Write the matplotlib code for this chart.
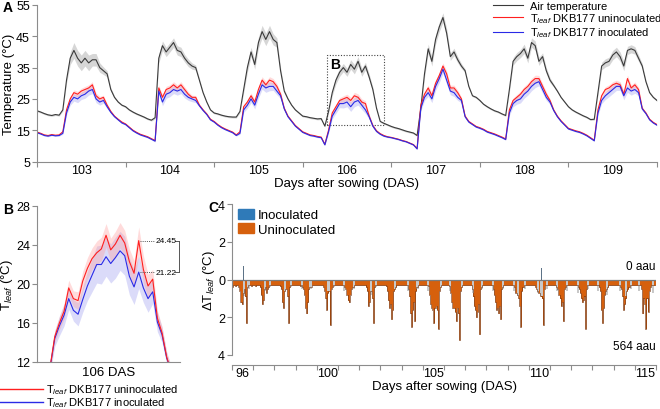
import numpy as np
import matplotlib
matplotlib.use('Agg')
import matplotlib.pyplot as plt
from matplotlib.patches import Rectangle, Patch
from matplotlib.lines import Line2D

plt.rcParams['font.family'] = ['Liberation Sans', 'DejaVu Sans']
plt.rcParams['mathtext.fontset'] = 'custom'
plt.rcParams['mathtext.rm'] = 'Liberation Sans'
plt.rcParams['mathtext.it'] = 'Liberation Sans:italic'

# ---------------- panel A : hourly means, DAS 103 - 109 ----------------
a_days = [103, 104, 105, 106, 107, 108, 109]
air = [
    [21.2, 20.8, 20.3, 19.9, 19.7, 20.0, 19.8, 21.5, 31.0, 38.0, 40.5, 38.0, 36.5, 38.0, 36.5, 37.5, 37.5, 35.0, 34.0, 33.0, 28.0, 25.5, 24.0, 23.0],
    [22.5, 21.5, 20.8, 20.2, 19.7, 19.2, 18.6, 18.2, 19.0, 38.0, 42.0, 40.0, 41.5, 43.0, 40.5, 40.0, 38.0, 36.5, 35.5, 35.0, 31.0, 27.0, 24.0, 21.5],
    [20.5, 20.2, 19.8, 19.5, 19.3, 19.2, 19.2, 21.0, 28.0, 35.0, 40.0, 36.0, 43.0, 46.5, 44.0, 46.5, 44.0, 43.0, 34.0, 27.5, 25.0, 23.0, 21.5, 20.5],
    [19.5, 19.3, 19.0, 18.8, 18.6, 18.7, 16.3, 21.0, 27.0, 31.0, 33.5, 35.0, 33.5, 36.0, 34.5, 37.0, 33.5, 35.5, 32.0, 28.0, 22.0, 17.8, 17.2, 16.7],
    [16.2, 15.8, 15.5, 15.1, 14.7, 14.4, 14.1, 13.3, 22.0, 33.0, 41.0, 37.0, 44.0, 48.0, 51.0, 46.0, 38.5, 40.0, 37.5, 35.5, 34.0, 29.0, 26.0, 25.5],
    [24.5, 23.3, 22.5, 21.8, 21.2, 20.8, 20.2, 19.7, 28.0, 37.0, 38.5, 39.5, 41.0, 38.0, 43.0, 42.0, 37.0, 38.5, 34.0, 31.0, 29.3, 27.5, 25.5, 24.0],
    [22.5, 21.5, 20.8, 20.2, 19.6, 19.1, 18.4, 18.5, 27.0, 35.5, 36.5, 37.0, 39.0, 40.0, 38.5, 35.5, 40.5, 41.0, 40.5, 38.0, 35.5, 30.5, 27.0, 25.5],
]
air_end = 24.5
unino = [
    [14.4, 14.0, 13.5, 13.3, 13.6, 13.4, 13.5, 14.5, 21.5, 25.0, 27.0, 26.5, 27.5, 28.0, 28.5, 29.5, 26.0, 25.0, 25.5, 23.0, 21.0, 19.5, 18.5, 17.6],
    [17.0, 16.0, 15.0, 14.3, 13.7, 13.3, 12.9, 12.3, 11.7, 28.5, 25.5, 28.0, 28.5, 29.5, 28.5, 29.5, 28.0, 26.5, 25.5, 25.5, 23.0, 21.5, 20.2, 18.5],
    [17.8, 16.8, 16.0, 15.4, 14.9, 14.4, 13.5, 14.5, 22.5, 24.0, 26.0, 24.0, 28.0, 31.0, 29.5, 31.0, 30.5, 29.0, 26.5, 22.0, 19.5, 18.0, 16.5, 15.5],
    [14.5, 14.0, 13.5, 13.3, 13.0, 12.8, 10.5, 15.0, 20.5, 22.5, 24.5, 25.0, 25.5, 24.5, 26.0, 25.5, 24.0, 23.5, 19.5, 16.5, 14.8, 13.9, 13.3, 12.9],
    [12.7, 12.4, 12.1, 11.7, 11.4, 10.9, 10.4, 9.2, 23.0, 26.5, 28.5, 26.0, 30.0, 32.5, 35.5, 33.0, 28.5, 28.5, 27.0, 25.0, 19.5, 17.8, 17.0, 16.2],
    [15.8, 15.3, 14.6, 14.2, 13.8, 13.3, 12.8, 12.2, 21.5, 24.5, 25.5, 26.5, 28.0, 29.0, 30.5, 31.5, 31.5, 29.0, 26.5, 24.5, 21.5, 19.5, 18.0, 16.8],
    [15.6, 15.2, 14.8, 14.5, 14.0, 13.4, 12.6, 11.8, 21.5, 26.0, 28.0, 28.5, 29.5, 30.0, 29.5, 26.5, 31.5, 28.5, 29.5, 28.0, 22.0, 20.5, 18.5, 17.5],
]
unino_end = 16.8
inoc = [
    [14.2, 13.8, 13.3, 13.1, 13.4, 13.2, 13.3, 14.0, 20.5, 24.0, 25.5, 25.0, 26.0, 26.5, 27.5, 28.0, 25.0, 24.0, 24.5, 22.5, 20.7, 19.3, 18.3, 17.3],
    [16.8, 15.8, 14.8, 14.1, 13.5, 13.1, 12.7, 12.1, 11.5, 27.5, 24.0, 26.5, 27.0, 28.0, 27.5, 28.0, 26.5, 25.5, 25.0, 24.5, 22.8, 21.3, 20.0, 18.3],
    [17.6, 16.6, 15.8, 15.2, 14.7, 14.2, 13.3, 14.0, 21.5, 23.0, 25.0, 23.0, 26.5, 29.5, 28.5, 29.0, 29.0, 27.5, 26.0, 21.8, 19.3, 17.8, 16.3, 15.3],
    [14.3, 13.8, 13.3, 13.1, 12.8, 12.6, 10.3, 14.5, 19.5, 21.5, 23.5, 23.5, 24.0, 22.5, 24.0, 24.5, 23.0, 21.5, 19.3, 16.3, 14.6, 13.7, 13.1, 12.8],
    [12.6, 12.3, 12.0, 11.6, 11.3, 10.8, 10.3, 9.0, 22.0, 25.5, 27.0, 25.0, 29.0, 31.5, 34.5, 31.0, 27.5, 27.0, 25.5, 24.5, 19.3, 17.6, 16.8, 16.0],
    [15.6, 15.1, 14.4, 14.0, 13.6, 13.1, 12.6, 12.0, 20.5, 23.5, 24.5, 25.0, 26.5, 27.5, 29.0, 30.0, 30.5, 28.0, 25.5, 24.0, 21.3, 19.3, 17.8, 16.6],
    [15.4, 15.0, 14.6, 14.3, 13.8, 13.2, 12.4, 11.6, 20.5, 24.5, 26.0, 27.0, 28.0, 29.0, 29.0, 26.0, 28.5, 27.5, 28.0, 27.0, 21.8, 20.3, 18.3, 17.3],
]
inoc_end = 16.6
air_sd = [
    [0.3, 0.3, 0.3, 0.3, 0.3, 0.3, 0.3, 0.4, 1.0, 2.0, 2.5, 2.5, 2.5, 2.5, 2.5, 2.0, 2.0, 1.5, 1.2, 1.0, 0.6, 0.4, 0.3, 0.3],
    [0.3, 0.3, 0.3, 0.3, 0.3, 0.3, 0.3, 0.3, 0.4, 1.5, 1.5, 1.5, 1.5, 1.5, 1.5, 1.5, 1.2, 1.2, 1.0, 0.8, 0.6, 0.4, 0.3, 0.3],
    [0.3, 0.3, 0.3, 0.3, 0.3, 0.3, 0.3, 0.4, 1.0, 1.5, 1.5, 1.5, 1.8, 2.0, 2.0, 2.0, 1.8, 1.5, 1.0, 0.6, 0.4, 0.3, 0.3, 0.3],
    [0.3, 0.3, 0.3, 0.3, 0.3, 0.3, 0.3, 0.5, 1.0, 1.2, 1.3, 1.3, 1.3, 1.5, 1.5, 1.5, 1.3, 1.2, 1.0, 0.8, 0.5, 0.3, 0.3, 0.3],
    [0.3, 0.3, 0.3, 0.3, 0.3, 0.3, 0.3, 0.3, 0.8, 1.2, 1.5, 1.5, 1.5, 1.5, 1.5, 1.5, 1.2, 1.2, 1.0, 0.8, 0.6, 0.4, 0.3, 0.3],
    [0.3, 0.3, 0.3, 0.3, 0.3, 0.3, 0.3, 0.3, 0.8, 1.2, 1.3, 1.3, 1.5, 1.5, 1.5, 1.5, 1.3, 1.2, 1.0, 0.8, 0.5, 0.4, 0.3, 0.3],
    [0.3, 0.3, 0.3, 0.3, 0.3, 0.3, 0.3, 0.3, 0.8, 1.2, 1.3, 1.3, 1.5, 1.5, 1.5, 1.5, 1.3, 1.3, 1.2, 1.0, 0.8, 0.5, 0.4, 0.3],
]
unino_sd = [
    [0.2, 0.2, 0.2, 0.2, 0.2, 0.2, 0.2, 0.3, 0.6, 0.8, 0.9, 0.9, 0.9, 1.0, 1.0, 1.0, 0.9, 0.8, 0.7, 0.5, 0.3, 0.2, 0.2, 0.2],
    [0.2, 0.2, 0.2, 0.2, 0.2, 0.2, 0.2, 0.2, 0.3, 0.9, 0.9, 1.0, 1.0, 1.0, 1.0, 1.0, 0.9, 0.8, 0.7, 0.6, 0.4, 0.3, 0.2, 0.2],
    [0.2, 0.2, 0.2, 0.2, 0.2, 0.2, 0.2, 0.3, 0.6, 0.8, 0.9, 0.9, 1.0, 1.1, 1.1, 1.1, 1.0, 0.9, 0.7, 0.4, 0.3, 0.2, 0.2, 0.2],
    [0.2, 0.2, 0.2, 0.2, 0.2, 0.2, 0.2, 0.4, 0.7, 0.8, 0.9, 1.0, 1.0, 1.0, 1.1, 1.1, 1.0, 0.9, 0.6, 0.4, 0.3, 0.2, 0.2, 0.2],
    [0.2, 0.2, 0.2, 0.2, 0.2, 0.2, 0.2, 0.2, 0.6, 0.8, 0.9, 0.9, 1.0, 1.0, 1.0, 1.0, 0.9, 0.9, 0.8, 0.6, 0.4, 0.3, 0.2, 0.2],
    [0.2, 0.2, 0.2, 0.2, 0.2, 0.2, 0.2, 0.2, 0.6, 0.8, 0.9, 1.0, 1.0, 1.0, 1.1, 1.1, 1.0, 0.9, 0.8, 0.6, 0.4, 0.3, 0.2, 0.2],
    [0.2, 0.2, 0.2, 0.2, 0.2, 0.2, 0.2, 0.2, 0.6, 0.8, 0.9, 1.0, 1.0, 1.0, 1.0, 1.0, 1.1, 1.0, 0.9, 0.8, 0.4, 0.3, 0.2, 0.2],
]
inoc_sd = [
    [0.2, 0.2, 0.2, 0.2, 0.2, 0.2, 0.2, 0.3, 0.7, 1.0, 1.2, 1.2, 1.2, 1.3, 1.3, 1.3, 1.2, 1.0, 0.9, 0.6, 0.3, 0.2, 0.2, 0.2],
    [0.2, 0.2, 0.2, 0.2, 0.2, 0.2, 0.2, 0.2, 0.3, 1.2, 1.2, 1.3, 1.3, 1.3, 1.3, 1.3, 1.2, 1.0, 0.9, 0.7, 0.4, 0.3, 0.2, 0.2],
    [0.2, 0.2, 0.2, 0.2, 0.2, 0.2, 0.2, 0.3, 0.8, 1.0, 1.2, 1.2, 1.3, 1.4, 1.4, 1.4, 1.3, 1.2, 0.9, 0.5, 0.3, 0.2, 0.2, 0.2],
    [0.2, 0.2, 0.2, 0.2, 0.2, 0.2, 0.2, 0.5, 0.9, 1.1, 1.3, 1.4, 1.5, 1.5, 1.5, 1.5, 1.4, 1.2, 0.8, 0.5, 0.3, 0.2, 0.2, 0.2],
    [0.2, 0.2, 0.2, 0.2, 0.2, 0.2, 0.2, 0.2, 0.8, 1.0, 1.2, 1.2, 1.3, 1.3, 1.3, 1.3, 1.2, 1.2, 1.0, 0.7, 0.4, 0.3, 0.2, 0.2],
    [0.2, 0.2, 0.2, 0.2, 0.2, 0.2, 0.2, 0.2, 0.8, 1.0, 1.2, 1.3, 1.3, 1.3, 1.4, 1.4, 1.3, 1.2, 1.0, 0.7, 0.4, 0.3, 0.2, 0.2],
    [0.2, 0.2, 0.2, 0.2, 0.2, 0.2, 0.2, 0.2, 0.8, 1.0, 1.2, 1.3, 1.3, 1.3, 1.3, 1.3, 1.4, 1.3, 1.2, 1.0, 0.5, 0.3, 0.2, 0.2],
]

# ---------------- panel B : DAS 106 daytime ----------------
b_unino = [11.5, 14.6, 16.0, 17.2, 19.6, 18.5, 18.3, 20.3, 21.6, 22.6, 23.2, 23.6, 25.0, 23.5,
           24.1, 25.0, 24.2, 22.3, 21.1, 24.45, 21.5, 19.8, 20.5, 16.5, 15.0, 12.5, 11.0]
b_inoc = [11.4, 14.4, 15.7, 16.8, 18.5, 17.3, 16.9, 18.4, 19.8, 20.9, 22.0, 22.0, 22.8, 22.1,
          22.7, 23.4, 22.9, 20.8, 19.7, 21.22, 19.6, 18.5, 19.2, 16.1, 14.8, 12.4, 11.0]
b_unino_sd = [0.5, 0.6, 0.7, 0.8, 0.8, 0.8, 0.9, 1.0, 1.1, 1.1, 1.2, 1.2, 1.2, 1.2,
              1.3, 1.3, 1.3, 1.3, 1.3, 1.4, 1.4, 1.2, 1.0, 0.8, 0.6, 0.5, 0.5]
b_inoc_sd = [0.6, 0.8, 1.0, 1.1, 1.1, 1.1, 1.2, 1.3, 1.5, 1.7, 1.9, 2.0, 2.0, 2.0,
             2.1, 2.0, 2.0, 1.9, 1.8, 1.7, 1.5, 1.4, 1.2, 1.0, 0.8, 0.6, 0.5]
b_peak = 19

# ---------------- panel C : dT leaf, DAS 96 - 115, 0.05 day bins ----------------
c_days = list(range(96, 116))
c_dt = [
    [-0.4, -0.3, -0.3, -0.35, -0.3, -0.3, -0.4, -0.6, -1.2, -1.3, -0.7, -0.5, -0.9, -2.3, -0.4, -0.3, -0.3, -0.3, -0.35, -0.3],
    [-0.3, -0.3, -0.35, -0.3, -0.3, -0.3, -0.4, -0.8, -1.3, -1.1, -0.5, -0.4, -0.7, -0.5, -0.4, -0.3, -0.3, -0.3, -0.3, -0.3],
    [-0.3, -0.3, -0.3, -0.3, -0.3, -0.35, -0.5, -1.2, -1.5, -0.6, -0.5, -0.5, -0.9, -2.3, -0.4, -0.3, -0.3, -0.3, -0.3, -0.3],
    [-0.3, -0.3, -0.3, -0.3, -0.35, -0.3, -0.4, -0.5, -0.8, -1.5, -1.8, -1.2, -0.5, -0.4, -0.4, -0.3, -0.3, -0.3, -0.3, -0.3],
    [-0.3, -0.3, -0.3, -0.3, -0.3, -0.3, -0.4, -0.6, -1.0, -1.6, -0.7, -0.6, -2.4, -0.5, -0.4, -0.3, -0.3, -0.3, -0.3, -0.3],
    [-0.3, -0.3, -0.3, -0.3, -0.3, -0.3, -0.4, -0.5, -0.8, -1.1, -1.2, -0.8, -0.5, -0.4, -0.4, -0.3, -0.3, -0.3, -0.3, -0.3],
    [-0.3, -0.3, -0.3, -0.3, -0.3, -0.3, -0.4, -0.6, -1.4, -1.2, -0.6, -0.6, -1.0, -2.3, -0.4, -0.3, -0.3, -0.3, -0.3, -0.3],
    [-0.3, -0.3, -0.3, -0.3, -0.3, -0.35, -0.6, -1.1, -1.5, -1.3, -2.1, -1.6, -0.6, -0.5, -0.4, -0.3, -0.3, -0.3, -0.3, -0.3],
    [-0.3, -0.3, -0.3, -0.3, -0.3, -0.3, -0.5, -0.9, -1.8, -2.5, -1.6, -1.2, -2.2, -0.6, -0.4, -0.3, -0.3, -0.3, -0.3, -0.3],
    [-0.3, -0.3, -0.3, -0.3, -0.3, -0.35, -0.8, -1.3, -1.5, -1.6, -2.3, -1.5, -1.4, -1.6, -2.6, -0.6, -0.4, -0.3, -0.3, -0.3],
    [-0.3, -0.3, -0.3, -0.3, -0.3, -0.35, -0.7, -1.2, -1.5, -1.5, -1.7, -2.2, -1.5, -1.8, -3.2, -0.6, -0.4, -0.3, -0.3, -0.3],
    [-0.3, -0.3, -0.3, -0.3, -0.3, -0.3, -0.5, -0.9, -1.4, -1.6, -2.0, -1.7, -1.3, -2.9, -0.5, -0.4, -0.3, -0.3, -0.3, -0.3],
    [-0.3, -0.3, -0.3, -0.3, -0.3, -0.3, -0.5, -0.8, -1.2, -1.6, -1.5, -1.8, -1.4, -2.1, -0.5, -0.4, -0.3, -0.3, -0.3, -0.3],
    [-0.3, -0.3, -0.3, -0.3, -0.3, -0.3, -0.4, -0.7, -0.7, -0.8, -1.0, -1.4, -2.5, -0.6, -0.4, -0.3, -0.3, -0.3, -0.3, -0.3],
    [-0.3, -0.3, -0.3, -0.3, -0.3, -0.3, -0.4, -0.5, -0.6, -0.7, -0.7, -0.9, -1.0, -2.4, -0.5, -0.3, -0.3, -0.3, -0.3, -0.3],
    [-0.3, -0.3, -0.3, -0.3, -0.3, -0.3, -0.4, -0.5, -0.8, -1.0, -1.4, -1.2, -2.2, -0.5, -0.4, -0.3, -0.3, -0.3, -0.3, -0.3],
    [-0.3, -0.3, -0.3, -0.3, -0.3, -0.3, -0.4, -0.5, -0.7, -1.0, -1.2, -1.1, -0.9, -2.6, -0.5, -0.3, -0.3, -0.3, -0.3, -0.3],
    [-0.3, -0.3, -0.3, -0.3, -0.3, -0.3, -0.4, -0.6, -1.6, -2.3, -1.5, -0.8, -0.6, -0.5, -0.4, -0.3, -0.3, -0.3, -0.3, -0.3],
    [-0.3, -0.3, -0.3, -0.3, -0.3, -0.3, -0.4, -0.5, -0.9, -1.6, -1.3, -1.0, -0.6, -0.5, -0.4, -0.3, -0.3, -0.3, -0.3, -0.3],
    [-0.3, -0.3, -0.3, -0.3, -0.3, -0.3, -0.5, -1.8, -1.0, -1.3, -2.6, -1.0, -1.7, -0.6, -0.4, -0.3, -0.3, -0.3, -0.3, -0.3],
]
gray_day = [96.58, 96.78, 97.55, 97.8, 98.5, 98.8, 99.3, 99.7, 100.55, 100.8, 101.3, 101.75,
            102.55, 102.8, 103.7, 104.3, 104.75, 105.25, 105.85, 106.3, 106.85, 107.35, 107.8,
            108.3, 108.8, 109.3, 109.5, 109.8, 110.45, 110.6, 110.85, 111.35, 111.8, 112.3,
            112.8, 113.25, 113.7, 114.3, 114.6, 114.8, 115.2, 115.85]
gray_dt = [-0.9, -0.5, -0.6, -0.4, -0.6, -0.4, -0.5, -0.5, -0.6, -0.4, -0.6, -0.5,
           -0.8, -0.4, -0.5, -0.6, -0.5, -0.6, -0.4, -0.6, -0.4, -0.7, -0.5,
           -0.6, -0.5, -0.6, -0.9, -0.5, -0.7, -0.9, -0.5, -0.6, -0.6, -0.7,
           -0.5, -0.6, -0.8, -0.6, -0.9, -0.5, -0.6, -0.7]
up_day = [96.53, 110.6]
up_dt = [0.7, 0.6]

# colours
c_air, c_red, c_blue = '#3a3a3a', '#ff1f1f', '#2a2ae6'
c_orange, c_inoc_blue = '#d6600d', '#2f7ab8'
spine_col = '#8c8c8c'


def style_axes(ax):
    for s in ['top', 'right']:
        ax.spines[s].set_visible(False)
    for s in ['left', 'bottom']:
        ax.spines[s].set_color(spine_col)
        ax.spines[s].set_linewidth(0.8)
    ax.tick_params(which='both', color=spine_col, length=3.5, width=0.8, labelsize=9, pad=1.5)


fig = plt.figure(figsize=(6.6, 4.1), dpi=100)

# ---------------- A ----------------
axA = fig.add_axes([37 / 660, 1 - 162.5 / 410, 620 / 660, 156.5 / 410])
t = a_days[0] + np.arange(len(a_days) * 24 + 1) / 24
air_v = np.array(sum(air, []) + [air_end])
un_v = np.array(sum(unino, []) + [unino_end])
in_v = np.array(sum(inoc, []) + [inoc_end])
air_e = np.array(sum(air_sd, []) + [0.3])
un_e = np.array(sum(unino_sd, []) + [0.2])
in_e = np.array(sum(inoc_sd, []) + [0.2])

axA.fill_between(t, air_v - air_e, air_v + air_e, color='#b5b5b5', alpha=0.55, lw=0)
axA.fill_between(t, in_v - in_e, in_v + in_e, color='#9a9aef', alpha=0.35, lw=0)
axA.fill_between(t, un_v - un_e, un_v + un_e, color='#ff9a9a', alpha=0.35, lw=0)
axA.plot(t, air_v, color=c_air, lw=0.8, label='Air temperature')
axA.plot(t, un_v, color=c_red, lw=0.8, label=r'T$_{leaf}$ DKB177 uninoculated')
axA.plot(t, in_v, color=c_blue, lw=0.8, label=r'T$_{leaf}$ DKB177 inoculated')

axA.add_patch(Rectangle((106.27, 16.7), 0.65, 22.3, fill=False, ls=(0, (1, 1.5)),
                        lw=0.8, edgecolor='#444'))
axA.text(106.31, 36.0, 'B', fontsize=10, fontweight='bold', va='center')

axA.set_xlim(103, 110)
axA.set_ylim(5, 55)
axA.set_yticks([5, 15, 25, 35, 45, 55])
axA.set_xticks(np.arange(103, 111), [''] * 8)
axA.set_xticks(np.array(a_days) + 0.5, [str(d) for d in a_days], minor=True)
style_axes(axA)
axA.tick_params(axis='x', which='minor', length=0)
axA.set_xlabel('Days after sowing (DAS)', fontsize=9.5, labelpad=1)
axA.set_ylabel('Temperature (°C)', fontsize=9.5, labelpad=1)
axA.legend(loc='upper left', bbox_to_anchor=(493 / 660, 0.996), bbox_transform=fig.transFigure,
           frameon=False, fontsize=8, handlelength=2.7, handletextpad=0.6,
           labelspacing=0.05, borderpad=0, borderaxespad=0)

# ---------------- B ----------------
axB = fig.add_axes([37 / 660, 1 - 363 / 410, 143 / 660, 156 / 410])
bt = 8 + 0.4 * np.arange(len(b_unino))
bu = np.array(b_unino)
bi = np.array(b_inoc)
axB.fill_between(bt, bi - np.array(b_inoc_sd), bi + np.array(b_inoc_sd), color='#9a9aef', alpha=0.35, lw=0)
axB.fill_between(bt, bu - np.array(b_unino_sd), bu + np.array(b_unino_sd), color='#ff9a9a', alpha=0.35, lw=0)
axB.plot(bt, bi, color=c_blue, lw=0.8)
axB.plot(bt, bu, color=c_red, lw=0.8)
axB.set_xlim(6.88, 19.14)
axB.set_ylim(12, 28)
axB.set_yticks([12, 16, 20, 24, 28])
axB.set_xticks([])
style_axes(axB)
axB.set_xlabel('106 DAS', fontsize=9.5, labelpad=3)
axB.set_ylabel(r'T$_{leaf}$ (°C)', fontsize=9.5, labelpad=1)

xp = bt[b_peak]
for v in (b_unino[b_peak], b_inoc[b_peak]):
    axB.plot([xp + 0.1, 17.0], [v, v], ls=(0, (1, 1.2)), color='#555', lw=0.7, clip_on=False)
    axB.text(17.08, v, f'{v:.2f}', fontsize=6, va='center', ha='left')
    axB.plot([18.72, 19.06], [v, v], color='#555', lw=0.7, clip_on=False)
axB.plot([19.06, 19.06], [b_inoc[b_peak], b_unino[b_peak]], color='#555', lw=0.7, clip_on=False)

# legend under panel B
for yy, col, lab in [(390, c_red, r'T$_{leaf}$ DKB177 uninoculated'),
                     (403, c_blue, r'T$_{leaf}$ DKB177 inoculated')]:
    fig.add_artist(Line2D([0.0, 43 / 660], [1 - yy / 410] * 2, color=col, lw=1.0,
                          transform=fig.transFigure))
    fig.text(46 / 660, 1 - yy / 410, lab, fontsize=8, va='center', ha='left')

# ---------------- C ----------------
axC = fig.add_axes([232 / 660, 1 - 356 / 410, 424 / 660, 151 / 410])
cx = c_days[0] + 0.05 * np.arange(len(c_days) * 20) + 0.025
cv = np.array(sum(c_dt, []))
axC.fill_between(cx, cv, 0, step='mid', color=c_orange, lw=0)
axC.bar(gray_day, gray_dt, width=0.1, color='#c8c8c8', lw=0)
axC.step(cx, cv, where='mid', color='#6b2c08', lw=0.4)
axC.bar(up_day, up_dt, width=0.06, color='#5d7387', lw=0)
axC.axhline(0, color='#7a7a7a', lw=0.9)
axC.set_xlim(96, 116)
axC.set_ylim(-4, 4)
axC.set_yticks([4, 2, 0, -2, -4], ['4', '2', '0', '2', '4'])
axC.set_xticks(np.arange(96, 117), [''] * 21)
lab_days = [96, 100, 105, 110, 115]
axC.set_xticks(np.array(lab_days) + 0.5, [str(d) for d in lab_days], minor=True)
style_axes(axC)
axC.tick_params(axis='x', which='minor', length=0)
axC.spines['bottom'].set_position(('outward', 7))
axC.set_xlabel('Days after sowing (DAS)', fontsize=9.5, labelpad=1)
axC.set_ylabel(r'$\Delta$T$_{leaf}$ (°C)', fontsize=9.5, labelpad=1)
axC.text(1.0, 0.7, '0 aau', transform=axC.get_yaxis_transform(), ha='right', va='center', fontsize=8.5)
axC.text(1.0, -3.5, '564 aau', transform=axC.get_yaxis_transform(), ha='right', va='center', fontsize=8.5)
axC.legend(handles=[Patch(color=c_inoc_blue, label='Inoculated'),
                    Patch(color=c_orange, label='Uninoculated')],
           loc='upper left', bbox_to_anchor=(238 / 660, 1 - 210 / 410), bbox_transform=fig.transFigure,
           frameon=False, fontsize=9.5, handlelength=1.2, handleheight=0.75,
           handletextpad=0.3, labelspacing=0.15, borderpad=0, borderaxespad=0)

# panel letters
fig.text(3 / 660, 1 - 1 / 410, 'A', fontsize=10, fontweight='bold', va='top')
fig.text(3 / 660, 1 - 203 / 410, 'B', fontsize=10, fontweight='bold', va='top')
fig.text(208 / 660, 1 - 201 / 410, 'C', fontsize=10, fontweight='bold', va='top')

fig.savefig('out.png', dpi=100)
